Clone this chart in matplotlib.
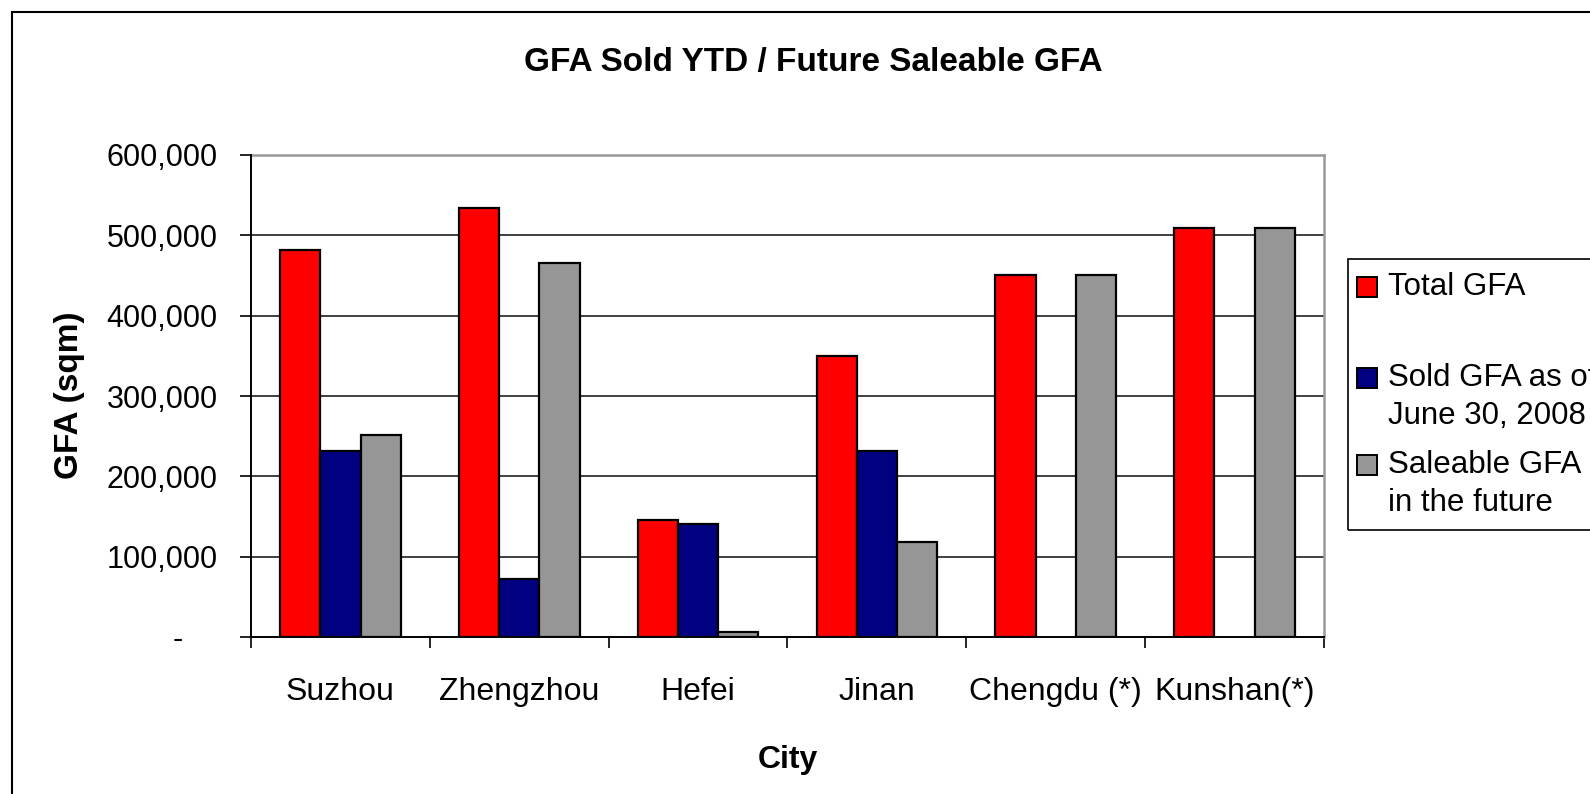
import matplotlib
matplotlib.use("Agg")
import matplotlib.pyplot as plt
from matplotlib.patches import Rectangle
from matplotlib.ticker import FuncFormatter
import numpy as np

plt.rcParams['font.family'] = ['Liberation Sans', 'DejaVu Sans']

cities = ["Suzhou", "Zhengzhou", "Hefei", "Jinan", "Chengdu (*)", "Kunshan(*)"]
total_gfa = [482000, 534000, 146000, 350000, 451000, 509000]
sold_gfa = [231000, 72000, 141000, 231000, 0, 0]
saleable_gfa = [251000, 465000, 6000, 118000, 451000, 509000]
series_labels = ["Total GFA", "Sold GFA as of\nJune 30, 2008", "Saleable GFA\nin the future"]
series_colors = ["#FF0000", "#000080", "#969696"]
yticks = [0, 100000, 200000, 300000, 400000, 500000, 600000]

W, H = 1590, 794
fig = plt.figure(figsize=(W / 100, H / 100), dpi=100)
fig.patch.set_facecolor("white")

def fx(px):
    return px / W

def fy(py):
    return 1 - py / H

ax = fig.add_axes([fx(251), fy(637), fx(1324) - fx(251), fy(155) - fy(637)])

x = np.arange(len(cities))
bw = 0.225
for i, (vals, col) in enumerate(zip([total_gfa, sold_gfa, saleable_gfa], series_colors)):
    heights = [v if v > 0 else np.nan for v in vals]
    ax.bar(x + (i - 1) * bw, heights, width=bw, color=col, edgecolor="black",
           linewidth=1.6, zorder=3)

ax.set_xlim(-0.5, len(cities) - 0.5)
ax.set_ylim(0, 600000)
ax.set_yticks(yticks)
ax.yaxis.set_major_formatter(FuncFormatter(lambda v, p: "-    " if v == 0 else f"{int(v):,}"))
ax.tick_params(axis="y", labelsize=22, length=8, width=1.2, pad=16, direction="out")

# gridlines (except top, which is the plot-area border)
for v in yticks[1:-1]:
    ax.axhline(v, color="#404040", linewidth=1.4, zorder=1)

# x ticks: boundaries as major ticks, labels at category centres
ax.set_xticks(np.arange(-0.5, len(cities), 1.0))
ax.set_xticklabels([])
ax.set_xticks(x, minor=True)
ax.set_xticklabels(cities, minor=True)
ax.tick_params(axis="x", which="major", length=8, width=1.2, direction="out")
ax.tick_params(axis="x", which="minor", length=0, labelsize=23, pad=29)

for s in ["left", "bottom"]:
    ax.spines[s].set_color("black")
    ax.spines[s].set_linewidth(1.4)
for s in ["top", "right"]:
    ax.spines[s].set_color("#999999")
    ax.spines[s].set_linewidth(1.8)
ax.spines["left"].set_zorder(4)
ax.spines["bottom"].set_zorder(4)

ax.set_xlabel("City", fontsize=23, fontweight="bold")
ax.xaxis.set_label_coords(0.5, -0.224)
ax.set_ylabel("GFA (sqm)", fontsize=24, fontweight="bold")
ax.yaxis.set_label_coords(-0.155, 0.502)

fig.text(fx(813), fy(63), "GFA Sold YTD / Future Saleable GFA", fontsize=24,
         fontweight="bold", ha="center", va="center")

# outer chart border (clipped at right/bottom)
fig.add_artist(Rectangle((fx(12), fy(900)), fx(1700) - fx(12), fy(12) - fy(900),
                         transform=fig.transFigure, fill=False, edgecolor="black",
                         linewidth=1.5))

# legend box
fig.add_artist(Rectangle((fx(1348), fy(530)), fx(1700) - fx(1348), fy(259) - fy(530),
                         transform=fig.transFigure, fill=False, edgecolor="black",
                         linewidth=1.2))

entry_centers = [287, 378, 465]
for lab, col, cy in zip(series_labels, series_colors, entry_centers):
    fig.add_artist(Rectangle((fx(1357), fy(cy + 10)), fx(20), 20 / H,
                             transform=fig.transFigure, facecolor=col,
                             edgecolor="black", linewidth=1.4))
    for k, line in enumerate(lab.split("\n")):
        fig.text(fx(1388), fy(cy + k * 38), line, fontsize=22.5, ha="left", va="center")

fig.savefig("out.png", dpi=100, facecolor="white")
